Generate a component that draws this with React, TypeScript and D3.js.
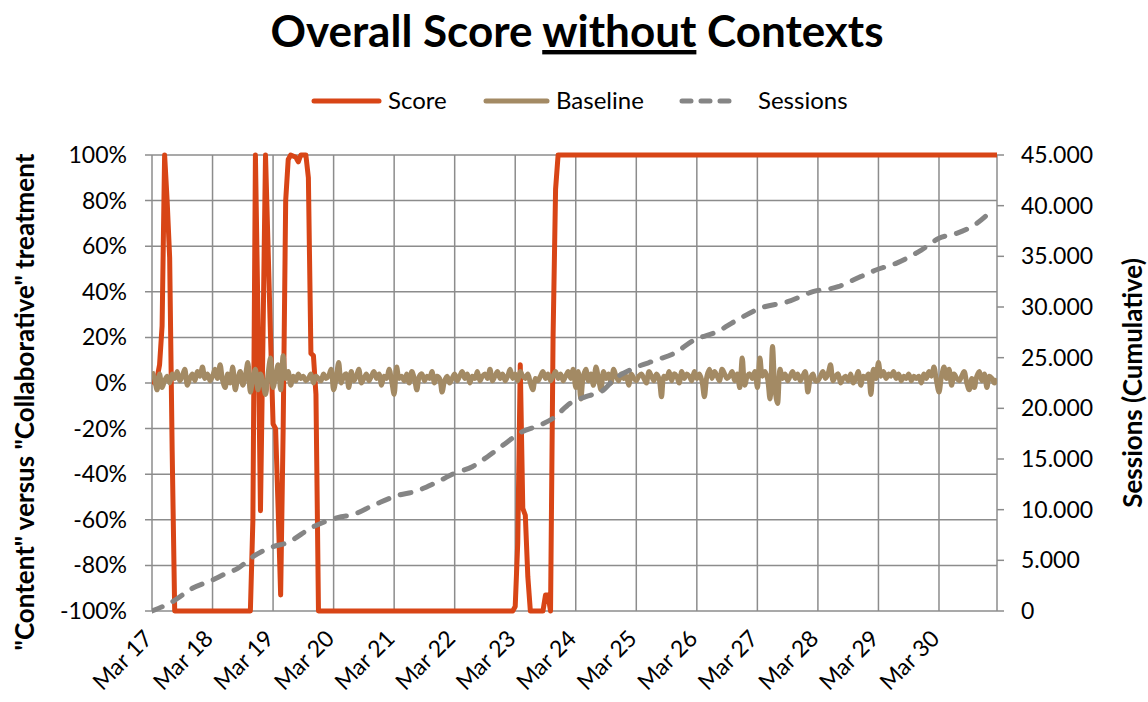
import React from 'react';
import * as d3 from 'd3';

const dayLabels = ['Mar 17', 'Mar 18', 'Mar 19', 'Mar 20', 'Mar 21', 'Mar 22', 'Mar 23', 'Mar 24', 'Mar 25', 'Mar 26', 'Mar 27', 'Mar 28', 'Mar 29', 'Mar 30'];
const leftTicks = [-1, -0.8, -0.6, -0.4, -0.2, 0, 0.2, 0.4, 0.6, 0.8, 1];
const rightTicks = [0, 5000, 10000, 15000, 20000, 25000, 30000, 35000, 40000, 45000];

// Score vertices (hour index since Mar 17 00:00, share)
const scoreHours = [0, 1, 2, 3, 4, 5, 6, 7, 8, 9, 39, 40, 41, 42, 43, 44, 45, 46, 47, 48, 49, 50, 51, 52, 53, 54, 55, 57, 58, 59, 61, 62, 63, 64, 65, 66, 143, 144, 145, 146, 147, 148, 149, 150, 155, 156, 157, 158, 159, 160, 161, 335];
const scoreValues = [0.02, 0, 0.02, 0.08, 0.25, 1, 0.8, 0.55, -0.3, -1, -1, -0.6, 1, 0.3, -0.56, 0.2, 1, 0.6, 0.2, -0.18, -0.2, -0.55, -0.93, -0.2, 0.8, 0.98, 1, 0.99, 0.97, 1, 1, 0.9, 0.13, 0.12, -0.05, -1, -1, -0.98, -0.7, 0.08, -0.55, -0.58, -0.85, -1, -1, -0.93, -0.93, -1, 0.2, 0.85, 1, 1];

// Baseline, hourly, in percent
const baselinePct = [
  5, 2, -3, 4, -2, 1, 3, 0, 4, 2, 5, 1, 3, 6, -1, 2, 4, 1, 5, 3, 7, 2, 4, 1,
  3, 6, 2, 8, 1, -2, 4, 0, 7, -3, 2, 5, -1, 3, 9, -4, 2, 6, -3, 4, 0, -5, 4, 11,
  -2, 3, 8, -3, 12, 2, 5, -1, 3, 1, 4, 2, 3, 1, 2, 4, 0, 3, 2, 1, 4, 2, 3, 6,
  -3, 2, 9, 0, 3, 4, -2, 5, 1, 3, 6, 0, 2, 4, 1, 3, 5, 2, 4, -1, 3, 2, 6, 1,
  -5, 7, 2, 3, 1, 4, 0, 5, 2, -3, 3, 4, 1, 3, 2, 5, 0, 3, 2, -4, 1, 3, 0, 2,
  4, 1, 3, 5, 2, 4, 0, 3, 2, 5, 1, 3, 4, 2, 6, 1, 3, 5, 2, 4, 1, 3, 6, 2,
  4, 1, 5, 3, 2, 4, 0, -3, 2, 1, 3, 5, 2, 4, 1, 3, 5, 2, 4, 1, 3, 5, 2, 6,
  -2, 5, -7, 3, 6, 1, 4, -1, 7, 2, -3, 5, 2, 4, 0, 6, 3, 1, 4, 2, 3, -1, 4, 2,
  1, 3, 4, 2, 0, 5, 3, 1, 4, 2, -6, 3, 2, 5, 1, 4, 3, 0, 5, 2, 4, 3, 1, 5,
  2, 4, 1, -6, 3, 6, 2, 5, 3, 1, 6, 4, 2, 3, 5, 1, 4, -2, 11, -1, 3, 4, 2, 5,
  -2, 11, 3, 5, 2, -7, 16, -3, -9, 6, 2, 4, 1, 3, 5, 2, 4, 1, 3, 5, -4, 2, 4, 1,
  1, 3, 5, 2, 4, 8, 1, 3, 4, 0, 2, 3, 1, 4, 0, 2, 5, -1, 3, 2, 4, -5, 6, 2,
  9, 3, 5, 2, 4, 3, 5, 2, 4, 1, 3, 2, 4, 1, 3, 2, 3, 0, 4, 2, 5, 3, 7, 1,
  -4, 3, 7, 2, 6, -1, 4, 2, 1, 3, 5, 0, -3, 2, -2, 3, 5, 1, 4, -2, 3, 2, 0, 2,
];

// Cumulative sessions (vertices)
const sessionHours = [0, 8, 16, 24, 28, 34, 40, 48, 53, 64, 75, 79, 88, 98, 104, 112, 120, 127, 133, 141, 146, 154, 159, 166, 172, 179, 183, 191, 200, 207, 215, 224, 232, 241, 252, 262, 272, 278, 287, 295, 305, 312, 319, 327, 331];
const sessionValues = [0, 900, 2240, 3060, 3550, 4210, 5360, 6350, 6680, 8320, 9300, 9470, 10460, 11450, 11770, 12600, 13590, 14240, 15230, 16710, 17600, 18360, 19020, 20530, 21150, 21810, 22800, 23950, 24770, 25430, 26740, 27560, 28720, 29870, 30520, 31510, 32000, 32660, 33650, 34310, 35620, 36780, 37270, 38260, 39080];

const COL_SCORE = '#D84516';
const COL_BASE = '#A38A64';
const COL_SESS = '#858585';
const GRID = '#8C8C8C';
const FONT = 'Lato, "Open Sans", sans-serif';

export default function App() {
  const W = 1148, H = 702;
  const L = 152, R = 997, T = 155, B = 611;
  const x = d3.scaleLinear().domain([0, 335]).range([L, R]);
  const yL = d3.scaleLinear().domain([-1, 1]).range([B, T]);
  const yR = d3.scaleLinear().domain([0, 45000]).range([B, T]);
  const pctF = d3.format('.0%');
  const pct = (v: number) => pctF(v).replace('\u2212', '-');
  const eu = d3.formatLocale({ decimal: ',', thousands: '.', grouping: [3], currency: ['', ''] }).format(',');

  const scoreLine = d3.line<number>().x((_, i) => x(scoreHours[i])).y((d) => yL(d));
  const baseLine = d3.line<number>().x((_, i) => x(i)).y((d) => yL(d / 100)).curve(d3.curveCatmullRom.alpha(0.5));
  const sessLine = d3.line<number>().x((_, i) => x(sessionHours[i])).y((d) => yR(d)).curve(d3.curveMonotoneX);

  const days = dayLabels.map((_, i) => i * 24);

  return (
    <svg width={W} height={H} style={{ position: 'absolute', left: 0, top: 0, background: '#fff' }} fontFamily={FONT}>
      <defs>
        <clipPath id="plot">
          <rect x={L} y={T - 4} width={R - L} height={B - T + 8} />
        </clipPath>
      </defs>
      {/* title */}
      <text x={577} y={47} textAnchor="middle" fontSize={44} fontWeight="bold">
        Overall Score <tspan style={{ textDecoration: 'underline' }}>without</tspan> Contexts
      </text>
      {/* legend */}
      <g fontSize={24}>
        <line x1={314} x2={379} y1={101} y2={101} stroke={COL_SCORE} strokeWidth={5} strokeLinecap="round" />
        <text x={388} y={109}>Score</text>
        <line x1={486} x2={547} y1={101} y2={101} stroke={COL_BASE} strokeWidth={5} strokeLinecap="round" />
        <text x={556} y={109}>Baseline</text>
        <line x1={682} x2={730} y1={101} y2={101} stroke={COL_SESS} strokeWidth={5} strokeLinecap="round" strokeDasharray="9,10" />
        <text x={758} y={109}>Sessions</text>
      </g>
      {/* grid */}
      <g stroke={GRID} strokeWidth={1.5}>
        {leftTicks.map((t) => (
          <line key={'h' + t} x1={L - 7} x2={R} y1={yL(t)} y2={yL(t)} />
        ))}
        {days.map((d) => (
          <line key={'v' + d} x1={x(d)} x2={x(d)} y1={T} y2={B} />
        ))}
        <line x1={R} x2={R} y1={T} y2={B} />
        {rightTicks.map((t) => (
          <line key={'r' + t} x1={R} x2={R + 7} y1={yR(t)} y2={yR(t)} />
        ))}
      </g>
      {/* left tick labels */}
      <g fontSize={23} textAnchor="end">
        {leftTicks.map((t) => (
          <text key={'lt' + t} x={127} y={yL(t) + 8}>{pct(t)}</text>
        ))}
      </g>
      <g fontSize={23} textAnchor="start">
        {rightTicks.map((t) => (
          <text key={'rt' + t} x={1021} y={yR(t) + 8}>{eu(t)}</text>
        ))}
      </g>
      {/* x labels */}
      <g fontSize={23} textAnchor="end">
        {dayLabels.map((lab, i) => (
          <text key={lab} transform={`translate(${x(days[i]) + 2},${640}) rotate(-45)`}>{lab}</text>
        ))}
      </g>
      {/* axis titles */}
      <text transform={`translate(34,402) rotate(-90)`} textAnchor="middle" fontSize={26} fontWeight="bold">
        "Content" versus "Collaborative" treatment
      </text>
      <text transform={`translate(1142,383) rotate(-90)`} textAnchor="middle" fontSize={26} fontWeight="bold">
        Sessions (Cumulative)
      </text>
      {/* series */}
      <g clipPath="url(#plot)" fill="none">
        <path d={scoreLine(scoreValues) || ''} stroke={COL_SCORE} strokeWidth={5} strokeLinejoin="round" />
        <path d={baseLine(baselinePct) || ''} stroke={COL_BASE} strokeWidth={5} strokeLinejoin="round" />
        <path d={sessLine(sessionValues) || ''} stroke={COL_SESS} strokeWidth={5} strokeLinecap="round" strokeDasharray="11,12" />
      </g>
    </svg>
  );
}
